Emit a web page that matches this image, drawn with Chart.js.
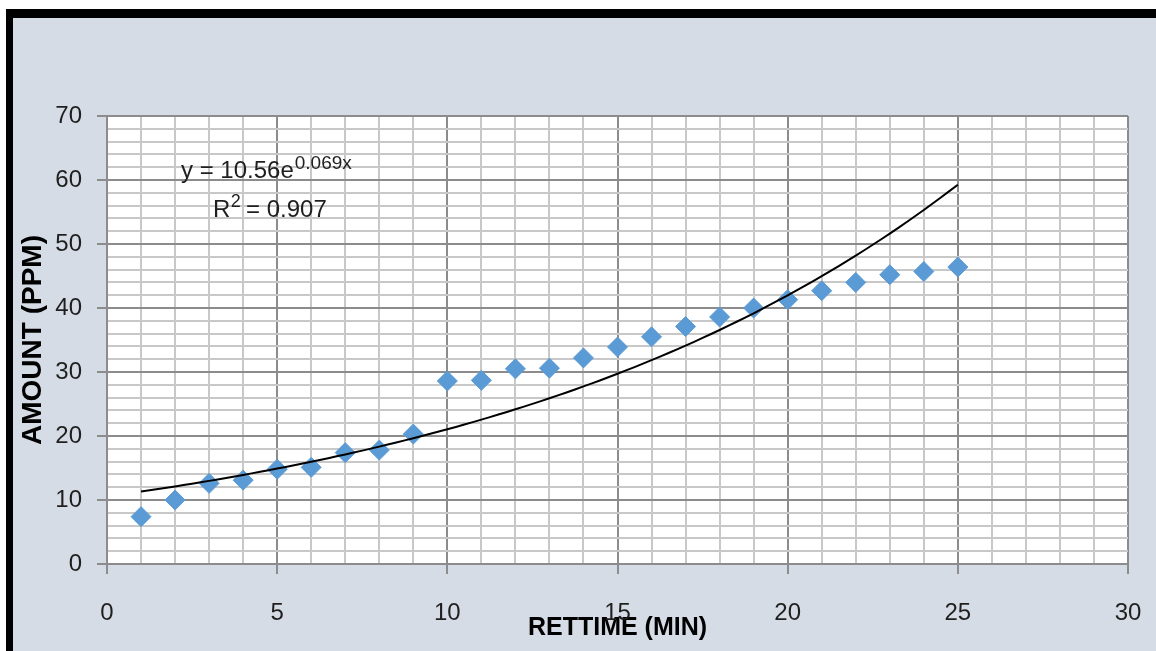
<!DOCTYPE html>
<html>
<head>
<meta charset="utf-8">
<script src="https://cdn.jsdelivr.net/npm/chart.js@4.4.1/dist/chart.umd.min.js"></script>
<style>
  html, body { margin: 0; padding: 0; background: #ffffff; }
  #wrap { width: 1156px; height: 651px; }
</style>
</head>
<body>
<div id="wrap"><canvas id="chart" width="1156" height="651"></canvas></div>
<script>
// Retention time (min) and measured amount (ppm)
const retTimes = [1, 2, 3, 4, 5, 6, 7, 8, 9, 10, 11, 12, 13, 14, 15, 16, 17, 18, 19, 20, 21, 22, 23, 24, 25];
const amounts  = [7.4, 10.0, 12.6, 13.1, 14.8, 15.1, 17.4, 17.8, 20.3, 28.6, 28.7, 30.5, 30.6, 32.2, 33.9,
                  35.5, 37.1, 38.6, 40.0, 41.3, 42.7, 44.0, 45.2, 45.7, 46.4];

// Labelled axis ticks
const xTickLabels = [0, 5, 10, 15, 20, 25, 30];
const yTickLabels = [0, 10, 20, 30, 40, 50, 60, 70];

// Exponential trendline y = a * e^(b x)
const fitA = 10.56;
const fitB = 0.069;
const fitR2 = 0.907;
const fitRange = [1, 25];

const FONT = "'Liberation Sans', Arial, sans-serif";
const MAJOR = '#8c8c8c';
const MINOR = '#c8c8c8';
const TEXT = '#1f1f1f';

// Trendline points along the fitted curve
const trendPoints = [];
for (let x = fitRange[0]; x <= fitRange[1] + 1e-9; x += 0.25) {
  trendPoints.push({ x: x, y: fitA * Math.exp(fitB * x) });
}

const scatterPoints = retTimes.map((t, i) => ({ x: t, y: amounts[i] }));

// Frame and plot background
const framePlugin = {
  id: 'frame',
  beforeDraw(chart) {
    const ctx = chart.ctx;
    const { width, height } = chart;
    const a = chart.chartArea;
    ctx.save();
    ctx.fillStyle = '#ffffff';
    ctx.fillRect(0, 0, width, height);
    ctx.fillStyle = '#000000';
    ctx.fillRect(6, 9, width - 6, height - 9);
    ctx.fillStyle = '#d6dce5';
    ctx.fillRect(13, 18, width - 13, height - 18);
    ctx.fillStyle = '#ffffff';
    ctx.fillRect(a.left, a.top, a.right - a.left, a.bottom - a.top);
    ctx.restore();
  }
};

// Trendline equation and R² text
const equationPlugin = {
  id: 'equation',
  afterDatasetsDraw(chart) {
    const ctx = chart.ctx;
    const a = chart.chartArea;
    const x0 = a.left + 74;
    const y0 = a.top + 62;
    ctx.save();
    ctx.fillStyle = TEXT;
    ctx.textBaseline = 'alphabetic';
    ctx.textAlign = 'left';
    ctx.font = '24px ' + FONT;
    const main = 'y = ' + fitA.toFixed(2) + 'e';
    ctx.fillText(main, x0, y0);
    const w = ctx.measureText(main).width;
    ctx.font = '19px ' + FONT;
    ctx.fillText(fitB.toFixed(3) + 'x', x0 + w + 1, y0 - 9);

    const x1 = a.left + 106;
    const y1 = a.top + 101;
    ctx.font = '24px ' + FONT;
    ctx.fillText('R', x1, y1);
    const wr = ctx.measureText('R').width;
    ctx.font = '18px ' + FONT;
    ctx.fillText('2', x1 + wr + 0.5, y1 - 10);
    const w2 = ctx.measureText('2').width;
    ctx.font = '24px ' + FONT;
    ctx.fillText(' = ' + fitR2.toFixed(3), x1 + wr + w2 - 1, y1);
    ctx.restore();
  }
};

new Chart(document.getElementById('chart'), {
  type: 'scatter',
  data: {
    datasets: [
      {
        label: 'Trendline',
        data: trendPoints,
        showLine: true,
        borderColor: '#000000',
        borderWidth: 2,
        pointRadius: 0,
        fill: false,
        tension: 0,
        order: 0
      },
      {
        label: 'Amount',
        data: scatterPoints,
        showLine: false,
        pointStyle: 'rectRot',
        pointRadius: 10,
        pointBackgroundColor: '#5b9bd5',
        pointBorderColor: '#5b9bd5',
        pointBorderWidth: 1,
        order: 1
      }
    ]
  },
  options: {
    responsive: false,
    animation: false,
    events: [],
    layout: { padding: { top: 116, right: 28, left: 0, bottom: 0 } },
    plugins: {
      legend: { display: false },
      tooltip: { enabled: false }
    },
    scales: {
      x: {
        type: 'linear',
        min: 0,
        max: 30,
        afterFit(scale) {
          scale.height = 87;
          scale.paddingLeft = 0;
          scale.paddingRight = 0;
        },
        ticks: {
          stepSize: 1,
          autoSkip: false,
          maxRotation: 0,
          minRotation: 0,
          padding: 25,
          color: TEXT,
          font: { family: FONT, size: 24 },
          callback: (v) => xTickLabels.includes(v) ? String(v) : ''
        },
        grid: {
          color: (c) => xTickLabels.includes(c.tick && c.tick.value) ? MAJOR : MINOR,
          lineWidth: 2,
          drawTicks: true,
          tickLength: 10,
          tickWidth: 2,
          tickColor: (c) => xTickLabels.includes(c.tick && c.tick.value) ? MAJOR : 'rgba(0,0,0,0)'
        },
        border: { display: true, color: MAJOR, width: 2 },
        title: {
          display: true,
          text: 'RETTIME (MIN)',
          color: '#000000',
          font: { family: FONT, size: 25, weight: 'bold' },
          padding: { top: 0, bottom: 8 }
        }
      },
      y: {
        type: 'linear',
        min: 0,
        max: 70,
        afterFit(scale) {
          scale.width = 107;
          scale.paddingTop = 0;
          scale.paddingBottom = 0;
        },
        ticks: {
          stepSize: 2,
          autoSkip: false,
          padding: 15,
          color: TEXT,
          font: { family: FONT, size: 24 },
          callback: (v) => yTickLabels.includes(v) ? String(v) : ''
        },
        grid: {
          color: (c) => yTickLabels.includes(c.tick && c.tick.value) ? MAJOR : MINOR,
          lineWidth: 2,
          drawTicks: true,
          tickLength: 10,
          tickWidth: 2,
          tickColor: (c) => yTickLabels.includes(c.tick && c.tick.value) ? MAJOR : 'rgba(0,0,0,0)'
        },
        border: { display: true, color: MAJOR, width: 2 },
        title: {
          display: true,
          text: 'AMOUNT (PPM)',
          color: '#000000',
          font: { family: FONT, size: 28, weight: 'bold' },
          padding: { top: 16, bottom: 0 }
        }
      }
    }
  },
  plugins: [framePlugin, equationPlugin]
});
</script>
</body>
</html>
